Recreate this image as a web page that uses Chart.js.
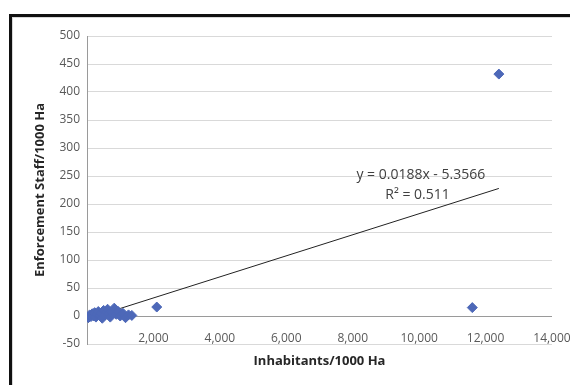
<!DOCTYPE html>
<html>
<head>
<meta charset="utf-8">
<script src="https://cdn.jsdelivr.net/npm/chart.js@4/dist/chart.umd.min.js"></script>
<style>
  html, body { margin: 0; padding: 0; background: #fff; }
  canvas { display: block; }
</style>
</head>
<body>
<canvas id="staffChart" width="570" height="385"></canvas>
<script>
// inhabitants per 1000 Ha (x) vs enforcement staff per 1000 Ha (y)
var inhabitants = [40, 80, 120, 160, 200, 230, 270, 300, 340, 380, 420, 460, 500, 540, 580,
                   620, 660, 700, 760, 820, 880, 940, 1000, 1080, 1160, 1250, 1350, 2100, 11600, 12400];
var staff = [-3, 2, -1, 4, 0, 6, -2, 3, 8, 1, 5, -4, 10, 2, 7,
             12, 4, -2, 6, 14, 3, 8, 0, 5, -3, 2, 1, 16, 15, 432];

// linear trend shown in the chart label
var trendSlope = 0.0188;
var trendIntercept = -5.3566;
var trendLabel = ["y = 0.0188x - 5.3566", "R\u00b2 = 0.511"];

var xTitle = "Inhabitants/1000 Ha";
var yTitle = "Enforcement Staff/1000 Ha";

var points = inhabitants.map(function (x, i) { return { x: x, y: staff[i] }; });
var xMin = Math.min.apply(null, inhabitants);
var xMax = Math.max.apply(null, inhabitants);
var trend = [
  { x: xMin, y: trendSlope * xMin + trendIntercept },
  { x: xMax, y: trendSlope * xMax + trendIntercept }
];

var fam = "'Open Sans', 'Liberation Sans', sans-serif";
var tickFont = { family: fam, size: 12 };
var titleFont = { family: fam, size: 13, weight: 'bold' };

// black frame + trendline label
var extras = {
  id: 'extras',
  beforeDraw: function (chart) {
    var ctx = chart.ctx;
    ctx.save();
    ctx.fillStyle = '#111';
    ctx.fillRect(9, 14, 561, 3);
    ctx.fillRect(9, 14, 3, 371);
    ctx.fillStyle = '#d8d8d8';
    ctx.fillRect(12, 17, 558, 1);
    ctx.fillRect(12, 17, 1, 368);
    ctx.restore();
  },
  afterDatasetsDraw: function (chart) {
    var ctx = chart.ctx;
    var xs = chart.scales.x, ys = chart.scales.y;
    ctx.save();
    ctx.font = "14px " + fam;
    ctx.fillStyle = '#404040';
    ctx.textAlign = 'center';
    ctx.textBaseline = 'middle';
    ctx.fillText(trendLabel[0], xs.getPixelForValue(10050), ys.getPixelForValue(252));
    ctx.fillText(trendLabel[1], xs.getPixelForValue(9950), ys.getPixelForValue(216));
    ctx.restore();
  }
};

new Chart(document.getElementById('staffChart'), {
  type: 'scatter',
  data: {
    datasets: [
      {
        label: 'Staff',
        data: points,
        pointStyle: 'rectRot',
        pointRadius: 5,
        backgroundColor: '#4d68b8',
        borderColor: '#4d68b8',
        borderWidth: 1
      },
      {
        label: 'Trend',
        type: 'line',
        data: trend,
        showLine: true,
        borderColor: '#222',
        borderWidth: 1,
        pointRadius: 0,
        fill: false
      }
    ]
  },
  options: {
    responsive: false,
    animation: false,
    layout: { padding: { left: 0, top: 36, right: 18, bottom: 16 } },
    plugins: { legend: { display: false }, tooltip: { enabled: false } },
    scales: {
      x: {
        type: 'linear',
        min: 0,
        max: 14000,
        ticks: {
          stepSize: 2000,
          mirror: true,
          padding: -2,
          color: '#595959',
          font: tickFont,
          maxRotation: 0,
          callback: function (v) { return v === 0 ? '' : v.toLocaleString('en-US'); }
        },
        grid: { display: false, drawTicks: false },
        border: { display: false },
        title: { display: true, text: xTitle, color: '#262626', font: titleFont, padding: 0 },
        afterFit: function (s) { s.height = 25; }
      },
      y: {
        min: -50,
        max: 500,
        ticks: { stepSize: 50, padding: 7, color: '#595959', font: tickFont },
        grid: {
          drawTicks: false,
          color: function (c) { return c.tick && c.tick.value === 0 ? '#9a9a9a' : '#d9d9d9'; }
        },
        border: { display: true, color: '#9a9a9a' },
        title: { display: true, text: yTitle, color: '#262626', font: titleFont, padding: { top: 32, bottom: 0 } },
        afterFit: function (s) { s.width = 87; }
      }
    }
  },
  plugins: [extras]
});
</script>
</body>
</html>
